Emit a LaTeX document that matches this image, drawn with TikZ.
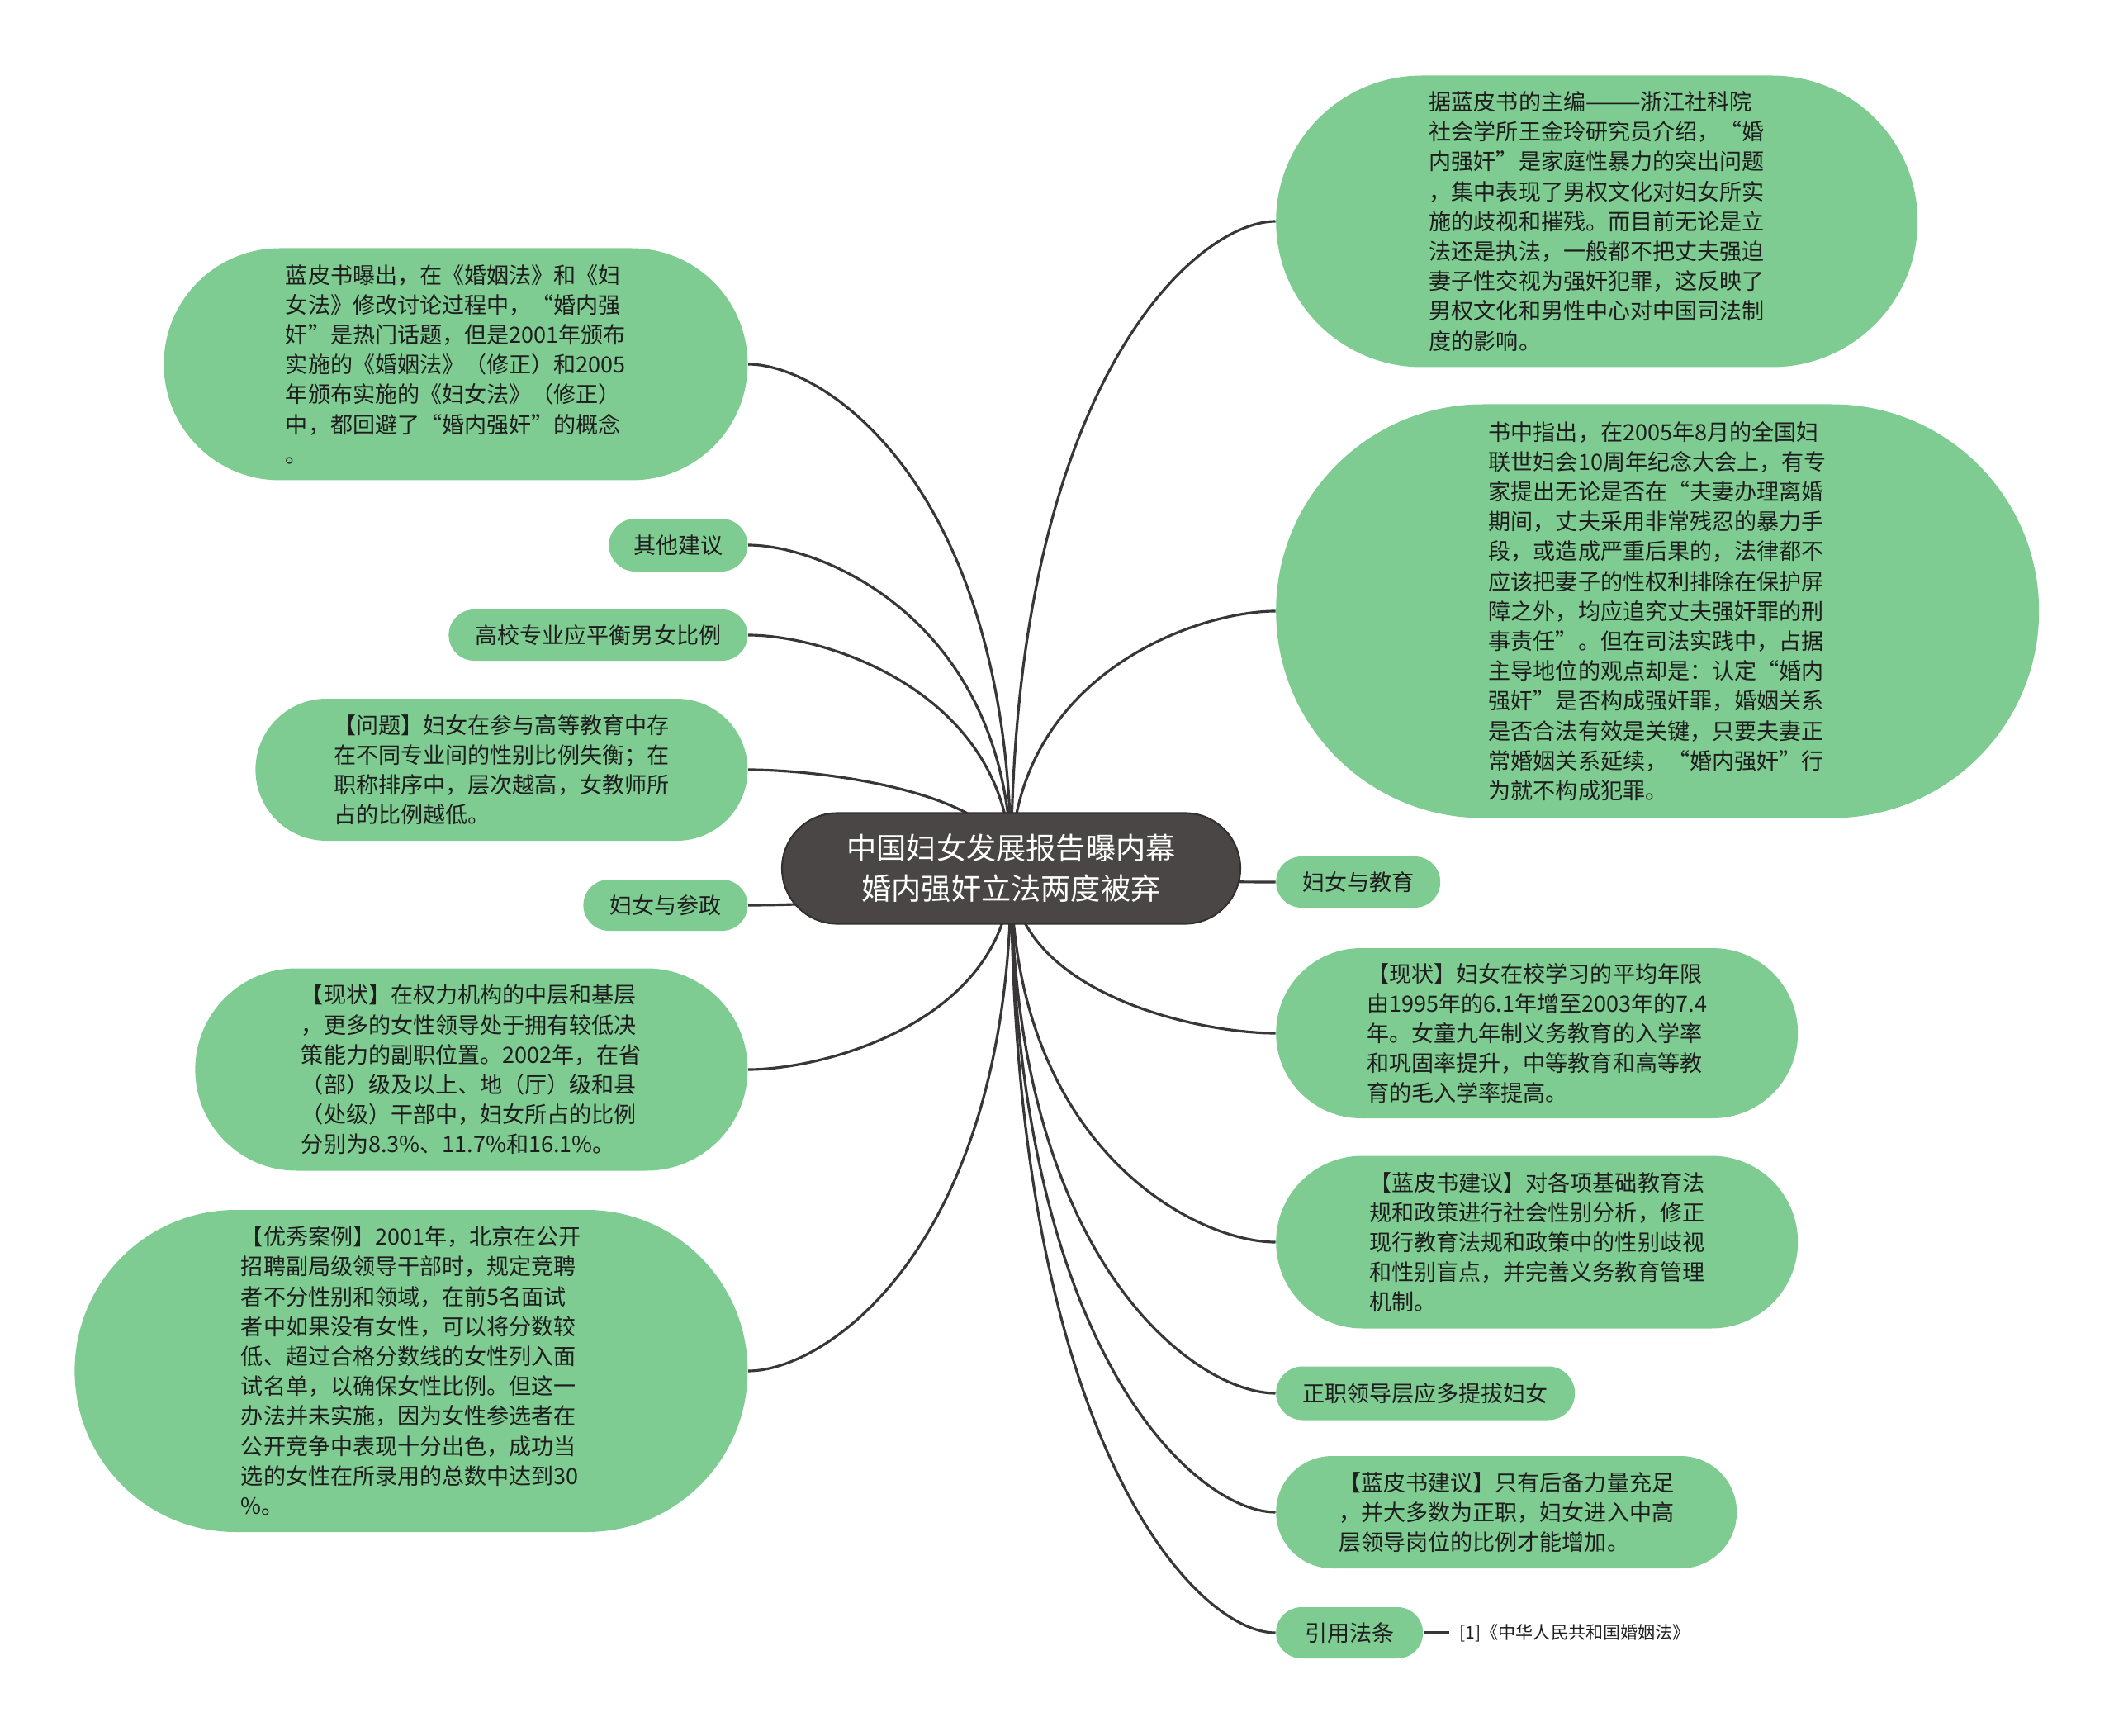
\documentclass[tikz,border=0pt]{standalone}
\usepackage{fontspec}
\newfontfamily\cjk{Noto Sans CJK SC}
\usetikzlibrary{shapes.misc,calc}
\definecolor{leafgreen}{HTML}{7FCC92}
\definecolor{hubgray}{HTML}{4A4646}
\definecolor{hubedge}{HTML}{333030}
\definecolor{linegray}{HTML}{383636}
\definecolor{inkdark}{HTML}{1E1E1E}
\begin{document}
\begin{tikzpicture}
\tikzstyle{topic}=[rounded rectangle,fill=leafgreen,inner sep=0pt,align=left,text=inkdark,font=\cjk\fontsize{7.7pt}{10.3pt}\selectfont]
\tikzstyle{hubbox}=[rounded rectangle,fill=hubgray,draw=hubedge,line width=0.6pt,inner sep=0pt,align=center,text=white,font=\cjk\fontsize{10.3pt}{13.9pt}\selectfont,minimum width=5.55cm,minimum height=1.34cm]
\tikzstyle{branch}=[draw=linegray,line width=0.9pt,to path={.. controls ($(\tikztostart)!0.75!(\tikztostart|-\tikztotarget)$) and ($(\tikztotarget)!0.3!(\tikztostart|-\tikztotarget)$) .. (\tikztotarget)}]
\useasboundingbox (0,0) rectangle (25.6,-21.02);
\coordinate (hub) at (12.245,-10.515);
% right side
\node[topic,anchor=west,minimum width=7.77cm,minimum height=3.53cm] (editor) at (15.445,-2.68) {据蓝皮书的主编———浙江社科院\\社会学所王金玲研究员介绍，“婚\\内强奸”是家庭性暴力的突出问题\\，集中表现了男权文化对妇女所实\\施的歧视和摧残。而目前无论是立\\法还是执法，一般都不把丈夫强迫\\妻子性交视为强奸犯罪，这反映了\\男权文化和男性中心对中国司法制\\度的影响。};
\node[topic,anchor=west,minimum width=9.24cm,minimum height=5.01cm] (book) at (15.445,-7.40) {书中指出，在2005年8月的全国妇\\联世妇会10周年纪念大会上，有专\\家提出无论是否在“夫妻办理离婚\\期间，丈夫采用非常残忍的暴力手\\段，或造成严重后果的，法律都不\\应该把妻子的性权利排除在保护屏\\障之外，均应追究丈夫强奸罪的刑\\事责任”。但在司法实践中，占据\\主导地位的观点却是：认定“婚内\\强奸”是否构成强奸罪，婚姻关系\\是否合法有效是关键，只要夫妻正\\常婚姻关系延续，“婚内强奸”行\\为就不构成犯罪。};
\node[topic,anchor=west,minimum width=1.99cm,minimum height=0.62cm] (edu) at (15.445,-10.68) {妇女与教育};
\node[topic,anchor=west,minimum width=6.32cm,minimum height=2.06cm] (edunow) at (15.445,-12.51) {【现状】妇女在校学习的平均年限\\由1995年的6.1年增至2003年的7.4\\年。女童九年制义务教育的入学率\\和巩固率提升，中等教育和高等教\\育的毛入学率提高。};
\node[topic,anchor=west,minimum width=6.32cm,minimum height=2.09cm] (eduadvice) at (15.445,-15.04) {【蓝皮书建议】对各项基础教育法\\规和政策进行社会性别分析，修正\\现行教育法规和政策中的性别歧视\\和性别盲点，并完善义务教育管理\\机制。};
\node[topic,anchor=west,minimum width=3.62cm,minimum height=0.65cm] (promote) at (15.445,-16.87) {正职领导层应多提拔妇女};
\node[topic,anchor=west,minimum width=5.58cm,minimum height=1.36cm] (leadadvice) at (15.445,-18.31) {【蓝皮书建议】只有后备力量充足\\，并大多数为正职，妇女进入中高\\层领导岗位的比例才能增加。};
\node[topic,anchor=west,minimum width=1.78cm,minimum height=0.62cm] (law) at (15.445,-19.77) {引用法条};
\node[anchor=west,inner sep=0pt,inner xsep=0.12cm,text=inkdark,font=\cjk\fontsize{6pt}{7pt}\selectfont] (lawref) at (17.55,-19.77) {[1]《中华人民共和国婚姻法》};
% left side
\node[topic,anchor=east,minimum width=7.07cm,minimum height=2.81cm] (exposed) at (9.061,-4.41) {蓝皮书曝出，在《婚姻法》和《妇\\女法》修改讨论过程中，“婚内强\\奸”是热门话题，但是2001年颁布\\实施的《婚姻法》（修正）和2005\\年颁布实施的《妇女法》（修正）\\中，都回避了“婚内强奸”的概念\\。};
\node[topic,anchor=east,minimum width=1.68cm,minimum height=0.64cm] (other) at (9.061,-6.60) {其他建议};
\node[topic,anchor=east,minimum width=3.62cm,minimum height=0.62cm] (balance) at (9.061,-7.69) {高校专业应平衡男女比例};
\node[topic,anchor=east,minimum width=5.96cm,minimum height=1.72cm] (problem) at (9.061,-9.32) {【问题】妇女在参与高等教育中存\\在不同专业间的性别比例失衡；在\\职称排序中，层次越高，女教师所\\占的比例越低。};
\node[topic,anchor=east,minimum width=1.99cm,minimum height=0.62cm] (politics) at (9.061,-10.96) {妇女与参政};
\node[topic,anchor=east,minimum width=6.69cm,minimum height=2.45cm] (polnow) at (9.061,-12.95) {【现状】在权力机构的中层和基层\\，更多的女性领导处于拥有较低决\\策能力的副职位置。2002年，在省\\（部）级及以上、地（厅）级和县\\（处级）干部中，妇女所占的比例\\分别为8.3\%、11.7\%和16.1\%。};
\node[topic,anchor=east,minimum width=8.15cm,minimum height=3.90cm] (bestcase) at (9.061,-16.60) {【优秀案例】2001年，北京在公开\\招聘副局级领导干部时，规定竞聘\\者不分性别和领域，在前5名面试\\者中如果没有女性，可以将分数较\\低、超过合格分数线的女性列入面\\试名单，以确保女性比例。但这一\\办法并未实施，因为女性参选者在\\公开竞争中表现十分出色，成功当\\选的女性在所录用的总数中达到30\\\%。};
\draw[branch] (hub) to (editor.west);
\draw[branch] (hub) to (book.west);
\draw[branch] (hub) to (edu.west);
\draw[branch] (hub) to (edunow.west);
\draw[branch] (hub) to (eduadvice.west);
\draw[branch] (hub) to (promote.west);
\draw[branch] (hub) to (leadadvice.west);
\draw[branch] (hub) to (law.west);
\draw[branch] (hub) to (exposed.east);
\draw[branch] (hub) to (other.east);
\draw[branch] (hub) to (balance.east);
\draw[branch] (hub) to (problem.east);
\draw[branch] (hub) to (politics.east);
\draw[branch] (hub) to (polnow.east);
\draw[branch] (hub) to (bestcase.east);
\draw[linegray,line width=0.9pt] (law.east) -- (lawref.west);
% the title goes on top of the branch roots
\node[hubbox] (title) at (hub) {中国妇女发展报告曝内幕\\婚内强奸立法两度被弃};
\end{tikzpicture}
\end{document}
